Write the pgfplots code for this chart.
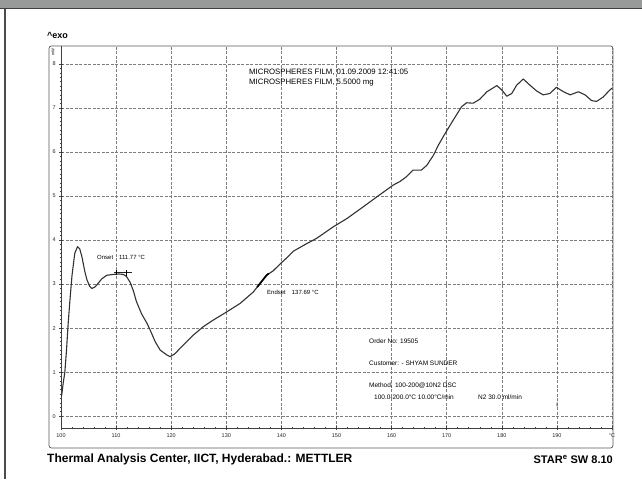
\documentclass[border=0pt]{standalone}
\usepackage{fontspec}
\setmainfont{Liberation Sans}
\usepackage{pgfplots}
\pgfplotsset{compat=1.18}
\definecolor{band}{RGB}{152,154,154}
\definecolor{trace}{RGB}{50,50,50}
\definecolor{gridc}{RGB}{125,125,125}

\begin{document}
\begin{tikzpicture}
% page, scanned border
\begin{scope}[x=1pt,y=-1pt,shift={(-61pt,428pt)}]
  \useasboundingbox (0,0) rectangle (642,479);
  \fill[white] (0,0) rectangle (642,479);
  \fill[band] (0,0) rectangle (642,8);
  \draw[black!75, line width=1pt] (0,8.5) -- (642,8.5);
  \draw[black!70, line width=1.3pt] (5,9) -- (5,479);
\end{scope}

\begin{axis}[
  scale only axis, width=551pt, height=382pt,
  xmin=100, xmax=200, ymin=-0.27, ymax=8.41,
  axis x line=bottom, axis y line=left,
  axis line style={-, black!75, line width=0.6pt},
  xtick={100,110,...,200},
  xticklabels={100,110,120,130,140,150,160,170,180,190,°C},
  ytick={0,...,8},
  minor x tick num=4, minor y tick num=9,
  tick align=center,
  major tick length=3.5pt, minor tick length=2.2pt,
  tick style={black!75, line width=0.5pt},
  grid=major,
  major grid style={gridc, line width=0.55pt, dash pattern=on 3pt off 1.5pt},
  tick label style={font=\fontsize{5.5}{6.5}\selectfont, text=black!85},
  /pgf/number format/assume math mode=true,
  clip=false,
]
% DSC heat flow trace
\addplot[trace, line width=1.1pt, line join=round] coordinates {
  (100.1,0.45) (100.4,0.75) (100.7,1.0) (101.0,1.5) (101.3,2.1) (101.6,2.6)
  (102.0,3.2) (102.5,3.7) (103.0,3.85) (103.4,3.8) (103.8,3.62) (104.3,3.3)
  (104.7,3.1) (105.2,2.95) (105.6,2.9) (106.1,2.93) (106.5,2.98) (107.4,3.12)
  (108.3,3.2) (109.5,3.22) (110.5,3.23) (111.3,3.22) (111.9,3.17) (112.5,3.05)
  (113.1,2.86) (113.7,2.6) (114.6,2.33) (115.6,2.11) (116.2,1.95) (117.1,1.69)
  (118.0,1.5) (119.2,1.39) (119.8,1.35) (120.7,1.42) (121.6,1.54) (122.8,1.69)
  (124.0,1.84) (125.8,2.03) (127.6,2.18) (130.1,2.37) (132.5,2.56) (134.9,2.82)
  (136.1,3.01) (137.3,3.2) (138.5,3.3) (139.7,3.45) (141.0,3.6) (142.2,3.75)
  (144.6,3.92) (146.4,4.04) (149.4,4.30) (151.9,4.49) (154.9,4.76) (157.3,4.98)
  (160.3,5.25) (161.5,5.33) (162.7,5.44) (163.9,5.59) (165.4,5.59) (166.4,5.70)
  (167.6,5.93) (168.5,6.16) (169.7,6.42) (171.2,6.73) (172.7,7.03) (173.6,7.12)
  (174.8,7.11) (176.0,7.2) (177.3,7.37) (179.1,7.51) (180.0,7.41) (180.9,7.27)
  (181.8,7.33) (182.7,7.52) (183.9,7.66) (185.1,7.52) (186.3,7.39) (187.5,7.3)
  (188.7,7.33) (189.9,7.47) (191.2,7.37) (192.4,7.3) (193.9,7.37) (195.1,7.3)
  (196.3,7.17) (197.2,7.15) (198.4,7.25) (199.6,7.41) (200,7.45)
};
% onset / endset construction marks
\addplot[black!85, line width=0.5pt] coordinates {(109.6,3.27) (112.9,3.27)};
\addplot[black, line width=0.6pt] coordinates {(110.1,3.2) (110.1,3.32)};
\addplot[black, line width=0.6pt] coordinates {(111.8,3.19) (111.8,3.31)};
\addplot[black, line width=1.7pt] coordinates {(135.6,2.93) (136.1,3.01) (137.3,3.2) (137.7,3.24)};
\end{axis}

\begin{scope}[x=1pt,y=-1pt,shift={(-61pt,428pt)}]
  \draw[black!65, line width=0.7pt, rounded corners=2.5pt] (49,448) rectangle (613,46);
  \node[anchor=west, inner sep=0, font=\fontsize{9}{10}\selectfont\bfseries] at (47,35) {\textasciicircum exo};
  \node[rotate=90, inner sep=0, font=\fontsize{4}{5}\selectfont] at (53,52) {mW};
  \node[anchor=west, inner sep=0, font=\fontsize{7.8}{9}\selectfont] at (249,72) {MICROSPHERES FILM, 01.09.2009 12:41:05};
  \node[anchor=west, inner sep=0, font=\fontsize{7.8}{9}\selectfont] at (249,83) {MICROSPHERES FILM, 5.5000 mg};
  \node[anchor=west, inner sep=0, font=\fontsize{6}{7}\selectfont] at (97,257) {Onset\quad 111.77 °C};
  \node[anchor=west, inner sep=0, font=\fontsize{6}{7}\selectfont] at (267,292) {Endset\quad 137.69 °C};
  \node[anchor=west, inner sep=0, font=\fontsize{6.5}{8}\selectfont] at (369,341) {Order No: 19505};
  \node[anchor=west, inner sep=0, font=\fontsize{6.5}{8}\selectfont] at (369,363) {Customer: - SHYAM SUNDER};
  \node[anchor=west, inner sep=0, font=\fontsize{6.5}{8}\selectfont] at (369,386) {Method: 100-200@10N2 DSC};
  \node[anchor=west, inner sep=0, font=\fontsize{6.5}{8}\selectfont] at (374,397) {100.0-200.0°C 10.00°C/min};
  \node[anchor=west, inner sep=0, font=\fontsize{6.5}{8}\selectfont] at (478,397) {N2 30.0 ml/min};
  \node[inner sep=0, font=\fontsize{6}{7}\selectfont, text=black!60] at (557,405) {(};
  \node[anchor=west, inner sep=0, font=\fontsize{12}{14}\selectfont\bfseries] at (47,459) {Thermal Analysis Center, IICT, Hyderabad.: METTLER};
  \node[anchor=east, inner sep=0, font=\fontsize{11}{13}\selectfont\bfseries] at (613,459) {STAR\textsuperscript{e} SW 8.10};
\end{scope}
\end{tikzpicture}
\end{document}
